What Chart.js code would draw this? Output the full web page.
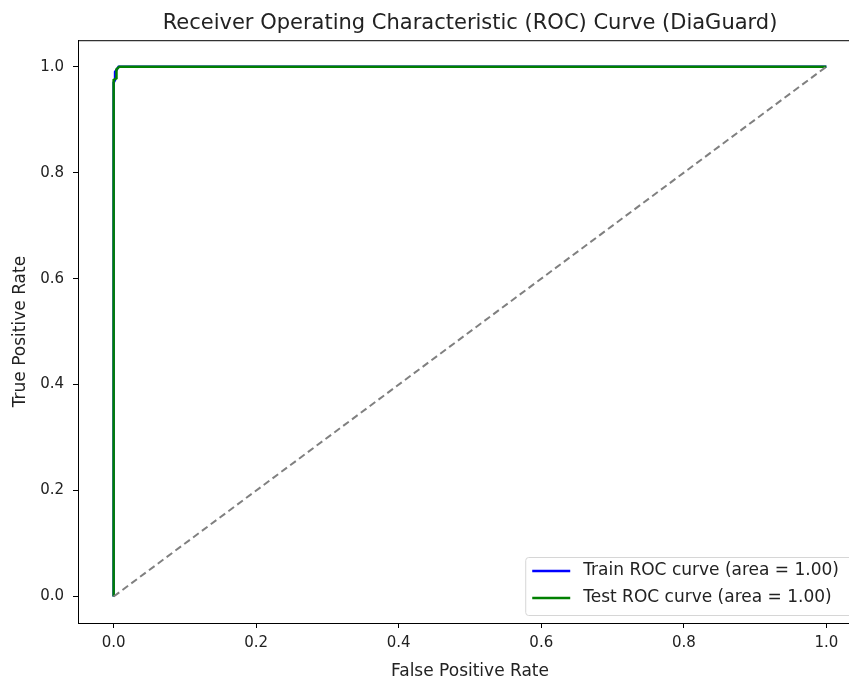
<!DOCTYPE html>
<html>
<head>
<meta charset="utf-8">
<script src="https://cdn.jsdelivr.net/npm/chart.js@4.4.1/dist/chart.umd.min.js"></script>
<style>
  html, body { margin: 0; padding: 0; background: #fff; overflow: hidden; }
  #wrap { width: 940px; height: 679px; }
</style>
</head>
<body>
<div id="wrap"><canvas id="roc" width="940" height="679"></canvas></div>
<script>
'use strict';

// ROC points
var trainFpr = [0, 0, 0.002, 0.002, 0.007, 1];
var trainTpr = [0, 0.97, 0.975, 0.99, 1, 1];
var testFpr = [0, 0, 0.004, 0.004, 0.008, 1];
var testTpr = [0, 0.975, 0.978, 0.995, 1, 1];
var chanceFpr = [0, 1];
var chanceTpr = [0, 1];
var tickValues = [0, 0.2, 0.4, 0.6, 0.8, 1.0];

var toPoints = function(xs, ys) {
  return xs.map(function(x, i) { return { x: x, y: ys[i] }; });
};

var font = 'DejaVu Sans';

// matplotlib style legend drawn inside the axes, lower right
var insideLegend = {
  id: 'insideLegend',
  afterDraw: function(chart) {
    var ctx = chart.ctx;
    var area = chart.chartArea;
    var items = chart.data.datasets.filter(function(d) { return d.label; });
    ctx.save();
    ctx.font = '17px "' + font + '"';
    var textW = 0;
    items.forEach(function(d) { textW = Math.max(textW, ctx.measureText(d.label).width); });
    var w = 7 + 38 + 13 + textW + 15;
    var h = 58;
    var right = area.right - 8;
    var bottom = area.bottom - 8;
    var left = right - w;
    var top = bottom - h;
    ctx.fillStyle = 'rgba(255,255,255,0.8)';
    ctx.strokeStyle = '#d6d6d6';
    ctx.lineWidth = 1;
    ctx.beginPath();
    ctx.roundRect(left + 0.5, top + 0.5, w, h, 3);
    ctx.fill();
    ctx.stroke();
    items.forEach(function(d, i) {
      var y = top + 14 + i * 27;
      ctx.strokeStyle = d.borderColor;
      ctx.lineWidth = 2.5;
      ctx.beginPath();
      ctx.moveTo(left + 7, y);
      ctx.lineTo(left + 45, y);
      ctx.stroke();
      ctx.fillStyle = '#222';
      ctx.textBaseline = 'middle';
      ctx.fillText(d.label, left + 58, y);
    });
    ctx.restore();
  }
};

// top and right spines
var frame = {
  id: 'frame',
  afterDatasetsDraw: function(chart) {
    var a = chart.chartArea;
    var ctx = chart.ctx;
    ctx.save();
    ctx.strokeStyle = '#000';
    ctx.lineWidth = 1;
    ctx.strokeRect(a.left + 0.5, a.top + 0.5, a.right - a.left, a.bottom - a.top);
    ctx.restore();
  }
};

var ctx = document.getElementById('roc');
var chart = new Chart(ctx, {
  type: 'scatter',
  data: {
    datasets: [{
        label: 'Train ROC curve (area = 1.00)',
        data: toPoints(trainFpr, trainTpr),
        showLine: true,
        borderColor: '#0000ff',
        backgroundColor: '#0000ff',
        borderWidth: 2.5,
        pointRadius: 0,
        order: 3
      },
      {
        label: 'Test ROC curve (area = 1.00)',
        data: toPoints(testFpr, testTpr),
        showLine: true,
        borderColor: '#008000',
        backgroundColor: '#008000',
        borderWidth: 2.5,
        pointRadius: 0,
        order: 2
      },
      {
        data: toPoints(chanceFpr, chanceTpr),
        showLine: true,
        borderColor: '#808080',
        borderWidth: 2,
        borderDash: [7, 4],
        pointRadius: 0,
        order: 1
      }
    ]
  },
  plugins: [frame, insideLegend],
  options: {
    responsive: false,
    animation: false,
    layout: { padding: { left: 0, right: 78, top: 0, bottom: 0 } },
    plugins: {
      legend: { display: false },
      tooltip: { enabled: false },
      title: {
        display: true,
        fullSize: false,
        text: 'Receiver Operating Characteristic (ROC) Curve (DiaGuard)',
        color: '#222',
        font: { family: font, size: 21, weight: 'normal' },
        padding: { top: 11, bottom: 4 }
      }
    },
    scales: {
      x: {
        type: 'linear',
        min: -0.05,
        max: 1.05,
        afterBuildTicks: function(scale) {
          scale.ticks = tickValues.map(function(v) { return { value: v }; });
        },
        afterFit: function(scale) { scale.height = 56; },
        ticks: {
          color: '#222',
          font: { family: font, size: 15 },
          padding: 6,
          maxRotation: 0,
          callback: function(v) { return v.toFixed(1); }
        },
        grid: { drawOnChartArea: false, drawTicks: true, tickLength: 5, color: '#000' },
        border: { display: true, color: '#000' },
        title: {
          display: true,
          text: 'False Positive Rate',
          color: '#222',
          font: { family: font, size: 17 },
          padding: { top: 2, bottom: -3 }
        }
      },
      y: {
        type: 'linear',
        min: -0.05,
        max: 1.05,
        afterBuildTicks: function(scale) {
          scale.ticks = tickValues.map(function(v) { return { value: v }; });
        },
        afterFit: function(scale) { scale.width = 78; },
        ticks: {
          color: '#222',
          font: { family: font, size: 15 },
          padding: 9,
          callback: function(v) { return v.toFixed(1); }
        },
        grid: { drawOnChartArea: false, drawTicks: true, tickLength: 5, color: '#000' },
        border: { display: true, color: '#000' },
        title: {
          display: true,
          text: 'True Positive Rate',
          color: '#222',
          font: { family: font, size: 17 },
          padding: { top: 10, bottom: 0 }
        }
      }
    }
  }
});
</script>
</body>
</html>
